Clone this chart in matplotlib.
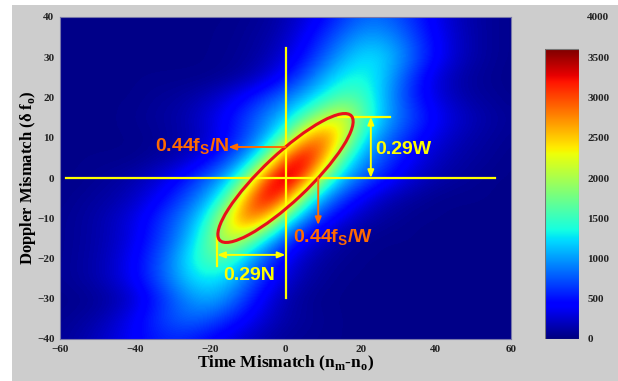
import numpy as np
import matplotlib

matplotlib.use("Agg")
import matplotlib.pyplot as plt  # noqa: E402
from matplotlib.patches import Ellipse, Rectangle  # noqa: E402

W, H = 618, 381

# grid the intensity was read on (5-unit steps)
time_mismatch = list(range(-60, 61, 5))
doppler_mismatch = list(range(40, -41, -5))     # top row first
x_ticks = [-60, -40, -20, 0, 20, 40, 60]
y_ticks = [-40, -30, -20, -10, 0, 10, 20, 30, 40]
cbar_ticks = [0, 500, 1000, 1500, 2000, 2500, 3000, 3500, 4000]

intensity = [
    [40, 40, 40, 40, 40, 40, 40, 40, 40, 40, 60, 90, 160, 280, 440, 620, 770, 810, 710, 550, 370, 220, 130, 80, 50],
    [40, 40, 40, 40, 40, 40, 40, 40, 40, 50, 80, 120, 220, 390, 600, 820, 1000, 1010, 880, 650, 430, 250, 140, 80, 50],
    [40, 40, 40, 40, 40, 40, 40, 40, 40, 60, 90, 160, 290, 500, 760, 1030, 1220, 1230, 1020, 730, 460, 260, 140, 80, 50],
    [40, 40, 40, 40, 40, 40, 40, 40, 50, 80, 140, 270, 470, 740, 1030, 1290, 1370, 1210, 870, 540, 300, 160, 90, 60, 40],
    [40, 40, 40, 40, 40, 70, 90, 130, 200, 320, 480, 670, 870, 1090, 1350, 1590, 1560, 1200, 810, 520, 320, 190, 110, 80, 50],
    [40, 40, 40, 40, 60, 90, 120, 190, 310, 470, 680, 910, 1170, 1560, 2030, 2250, 1750, 1220, 880, 640, 430, 280, 180, 120, 80],
    [40, 40, 40, 40, 40, 60, 100, 150, 270, 460, 720, 1060, 1620, 2550, 2950, 2350, 1420, 970, 700, 490, 320, 200, 130, 90, 60],
    [40, 40, 40, 40, 50, 90, 140, 250, 430, 690, 1050, 1700, 2950, 3450, 2800, 1630, 1070, 770, 540, 350, 220, 140, 100, 70, 40],
    [40, 40, 70, 100, 150, 240, 380, 580, 820, 1140, 1790, 3050, 3640, 3050, 1790, 1140, 820, 580, 380, 240, 150, 100, 70, 40, 40],
    [40, 70, 100, 140, 230, 370, 560, 800, 1090, 1650, 2800, 3450, 2900, 1670, 1020, 660, 410, 230, 140, 90, 50, 40, 40, 40, 40],
    [60, 90, 140, 220, 340, 530, 750, 1020, 1470, 2350, 2950, 2550, 1530, 940, 580, 340, 190, 110, 70, 40, 40, 40, 40, 40, 40],
    [60, 90, 140, 220, 360, 570, 810, 1160, 1690, 2200, 1880, 1240, 740, 420, 210, 110, 70, 40, 40, 40, 40, 40, 40, 40, 40],
    [60, 100, 150, 260, 430, 660, 950, 1330, 1630, 1530, 1100, 710, 410, 210, 110, 70, 40, 40, 40, 40, 40, 40, 40, 40, 40],
    [70, 100, 160, 270, 440, 670, 940, 1210, 1290, 1140, 830, 530, 290, 140, 80, 40, 40, 40, 40, 40, 40, 40, 40, 40, 40],
    [40, 50, 80, 140, 270, 490, 740, 960, 1060, 890, 600, 340, 160, 80, 40, 40, 40, 40, 40, 40, 40, 40, 40, 40, 40],
    [60, 90, 140, 250, 410, 590, 750, 820, 740, 580, 410, 250, 140, 90, 60, 40, 40, 40, 40, 40, 40, 40, 40, 40, 40],
    [80, 130, 210, 310, 420, 520, 570, 520, 420, 310, 210, 130, 80, 60, 50, 40, 40, 40, 40, 40, 40, 40, 40, 40, 40],
]

YELLOW = "#ffff00"
ORANGE = "#ff6a00"
RED = "#e8101a"
SANS = ["Liberation Sans", "DejaVu Sans"]
SERIF = ["Liberation Serif", "DejaVu Serif"]

plt.rcParams["font.family"] = SERIF

fig = plt.figure(figsize=(W / 100, H / 100), dpi=100)
fig.patch.set_facecolor("white")
fig.add_artist(Rectangle((12 / W, 0), 1 - 12 / W, 1 - 5 / H, transform=fig.transFigure,
                         facecolor="#cdcdcd", edgecolor="none", zorder=-10))

ax = fig.add_axes([60 / W, 1 - 339 / H, 451 / W, 322 / H])
dx = (time_mismatch[1] - time_mismatch[0]) / 2
dy = (doppler_mismatch[0] - doppler_mismatch[1]) / 2
ax.imshow(np.array(intensity), origin="upper", cmap="jet", vmin=0, vmax=3600,
          interpolation="bicubic", aspect="auto",
          extent=[time_mismatch[0] - dx, time_mismatch[-1] + dx,
                  doppler_mismatch[-1] - dy, doppler_mismatch[0] + dy])
ax.set_xlim(-60, 60)
ax.set_ylim(-40, 40)
ax.set_xticks(x_ticks)
ax.set_yticks(y_ticks)
ax.tick_params(length=0, labelsize=8, colors="#222222", pad=4)
for lab in ax.get_xticklabels() + ax.get_yticklabels():
    lab.set_fontweight("bold")
for s in ax.spines.values():
    s.set_color("#7777aa"); s.set_linewidth(0.8)

# guide lines
ax.plot([-58.5, 55.7], [0, 0], color=YELLOW, lw=1.6)
ax.plot([0, 0], [-29.8, 32.4], color=YELLOW, lw=1.6)
ax.plot([14, 27.8], [15.2, 15.2], color=YELLOW, lw=1.6)
ax.plot([-18.2, -18.2], [-14.7, -21.9], color=YELLOW, lw=1.6)

ax.add_patch(Ellipse((0, 0), 46.7, 11.9, angle=41.2, fill=False, edgecolor=RED, lw=2.2, zorder=5))

dbl = dict(arrowstyle="<|-|>,head_length=0.45,head_width=0.18", color=YELLOW, lw=1.4,
           shrinkA=0, shrinkB=0, mutation_scale=10)
one = dict(arrowstyle="-|>,head_length=0.45,head_width=0.18", color=ORANGE, lw=1.4,
           shrinkA=0, shrinkB=0, mutation_scale=10)
ax.annotate("", xy=(22.7, 0), xytext=(22.7, 15.2), arrowprops=dbl)
ax.annotate("", xy=(-18.2, -19.1), xytext=(0, -19.1), arrowprops=dbl)
ax.annotate("", xy=(-15.2, 7.7), xytext=(0, 7.7), arrowprops=one, zorder=6)
ax.annotate("", xy=(8.7, -11.7), xytext=(8.7, 0), arrowprops=one, zorder=6)

lbl = dict(fontsize=14, fontweight="bold", family=SANS, va="center")
ax.text(23.8, 7.0, "0.29W", color=YELLOW, ha="left", **lbl)
ax.text(-9.7, -24.3, "0.29N", color=YELLOW, ha="center", **lbl)
ax.text(-15.0, 7.7, r"0.44f$_\mathregular{S}$/N", color=ORANGE, ha="right", **lbl)
ax.text(2.0, -14.9, r"0.44f$_\mathregular{S}$/W", color=ORANGE, ha="left", **lbl)

# axis titles
fig.text(285.5 / W, 1 - 363 / H, r"Time Mismatch (n$_\mathregular{m}$-n$_\mathregular{o}$)",
         ha="center", va="center", fontsize=12.5, fontweight="bold")
fig.text(28 / W, 1 - 178 / H, r"Doppler Mismatch (δ f$_\mathregular{o}$)",
         ha="center", va="center", rotation=90, fontsize=12, fontweight="bold")

# colour scale: bar runs to 3600, labels to 4000
cax = fig.add_axes([545 / W, 1 - 339 / H, 34 / W, 322 / H])
cax.patch.set_alpha(0)
cax.imshow(np.linspace(0, 3600, 256)[:, None], origin="lower", cmap="jet", vmin=0, vmax=3600,
           aspect="auto", extent=[0, 1, 0, 3600])
cax.add_patch(Rectangle((0, 0), 1, 3600, fill=False, edgecolor="#777777", lw=0.8))
cax.set_xlim(0, 1)
cax.set_ylim(0, 4000)
for s in cax.spines.values():
    s.set_visible(False)
cax.set_xticks([])
cax.yaxis.tick_right()
cax.set_yticks(cbar_ticks)
cax.tick_params(length=0, labelsize=8, colors="#222222", pad=6)
for lab in cax.get_yticklabels():
    lab.set_fontweight("bold")

fig.savefig("out.png", dpi=100)
